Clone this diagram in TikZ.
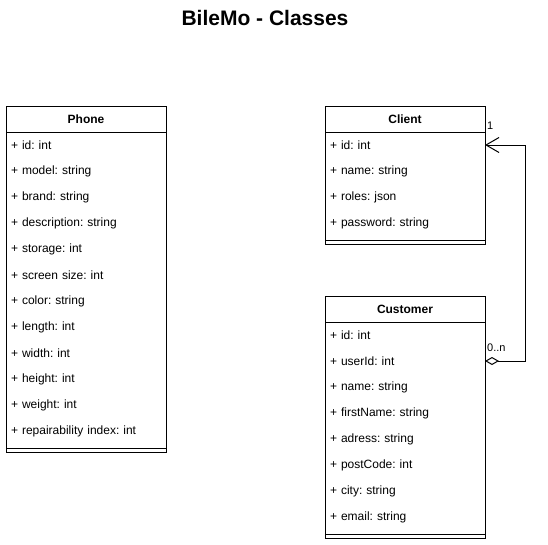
\documentclass[tikz,border=0pt]{standalone}
\usepackage{fontspec}
\setmainfont{Liberation Sans}
\usetikzlibrary{
	positioning,
	arrows.meta
}
\frenchspacing
\tikzset{
	classhead/.style={
		draw,
		line width=1pt,
		anchor=north west,
		minimum width=160pt,
		minimum height=26pt,
		inner sep=0pt,
		outer sep=0pt,
		font=\fontsize{12}{14}\selectfont\bfseries
	},
	attrnode/.style={
		minimum height=26pt,
		text width=150pt,
		inner xsep=5pt,
		inner ysep=0pt,
		outer sep=0pt,
		align=left,
		font=\fontsize{12}{14}\selectfont
	},
	sepnode/.style={
		minimum width=160pt,
		minimum height=8pt,
		inner sep=0pt,
		outer sep=0pt
	},
	outline/.style={
		line width=1pt
	},
	multlabel/.style={
		inner sep=1pt,
		font=\fontsize{11}{13}\selectfont
	},
	aggrarrow/.style={
		{Diamond[open,length=14pt,width=8pt]}-{Straight Barb[length=13pt,width=15pt]},
		line width=1pt
	}
}

\begin{document}
\begin{tikzpicture}[x=1pt, y=-1pt]
	\useasboundingbox (0,0) rectangle (548,544);
	
	% Title
	\node[font=\fontsize{21}{25}\selectfont\bfseries] (title) at (265,18) {BileMo - Classes};
	
	% Phone class
	\node[classhead] (phone) at (6,106) {Phone};
	\node[attrnode, below=0pt of phone] (phone-id) {+ id: int};
	\node[attrnode, below=0pt of phone-id] (phone-model) {+ model: string};
	\node[attrnode, below=0pt of phone-model] (phone-brand) {+ brand: string};
	\node[attrnode, below=0pt of phone-brand] (phone-desc) {+ description: string};
	\node[attrnode, below=0pt of phone-desc] (phone-storage) {+ storage: int};
	\node[attrnode, below=0pt of phone-storage] (phone-screen) {+ screen size: int};
	\node[attrnode, below=0pt of phone-screen] (phone-color) {+ color: string};
	\node[attrnode, below=0pt of phone-color] (phone-length) {+ length: int};
	\node[attrnode, below=0pt of phone-length] (phone-width) {+ width: int};
	\node[attrnode, below=0pt of phone-width] (phone-height) {+ height: int};
	\node[attrnode, below=0pt of phone-height] (phone-weight) {+ weight: int};
	\node[attrnode, below=0pt of phone-weight] (phone-repair) {+ repairability index: int};
	\node[sepnode, below=0pt of phone-repair] (phone-sep) {};
	\draw[outline] (phone.north west) rectangle (phone-sep.south east);
	\draw[outline] (phone-sep.west) -- (phone-sep.east);
	
	% Client class
	\node[classhead] (client) at (325,106) {Client};
	\node[attrnode, below=0pt of client] (client-id) {+ id: int};
	\node[attrnode, below=0pt of client-id] (client-name) {+ name: string};
	\node[attrnode, below=0pt of client-name] (client-roles) {+ roles: json};
	\node[attrnode, below=0pt of client-roles] (client-password) {+ password: string};
	\node[sepnode, below=0pt of client-password] (client-sep) {};
	\draw[outline] (client.north west) rectangle (client-sep.south east);
	\draw[outline] (client-sep.west) -- (client-sep.east);
	
	% Customer class
	\node[classhead] (customer) at (325,296) {Customer};
	\node[attrnode, below=0pt of customer] (customer-id) {+ id: int};
	\node[attrnode, below=0pt of customer-id] (customer-userid) {+ userId: int};
	\node[attrnode, below=0pt of customer-userid] (customer-name) {+ name: string};
	\node[attrnode, below=0pt of customer-name] (customer-firstname) {+ firstName: string};
	\node[attrnode, below=0pt of customer-firstname] (customer-adress) {+ adress: string};
	\node[attrnode, below=0pt of customer-adress] (customer-postcode) {+ postCode: int};
	\node[attrnode, below=0pt of customer-postcode] (customer-city) {+ city: string};
	\node[attrnode, below=0pt of customer-city] (customer-email) {+ email: string};
	\node[sepnode, below=0pt of customer-email] (customer-sep) {};
	\draw[outline] (customer.north west) rectangle (customer-sep.south east);
	\draw[outline] (customer-sep.west) -- (customer-sep.east);
	
	% Aggregation Customer -> Client
	\draw[aggrarrow] (customer-userid.east) -- ++(40,0) |- (client-id.east);
	\node[multlabel, anchor=south west] (mult-one) at ([xshift=1pt,yshift=1pt]client-id.north east) {1};
	\node[multlabel, anchor=south west] (mult-many) at ([xshift=1pt,yshift=8pt]customer-userid.east) {0..n};
	
\end{tikzpicture}
\end{document}
